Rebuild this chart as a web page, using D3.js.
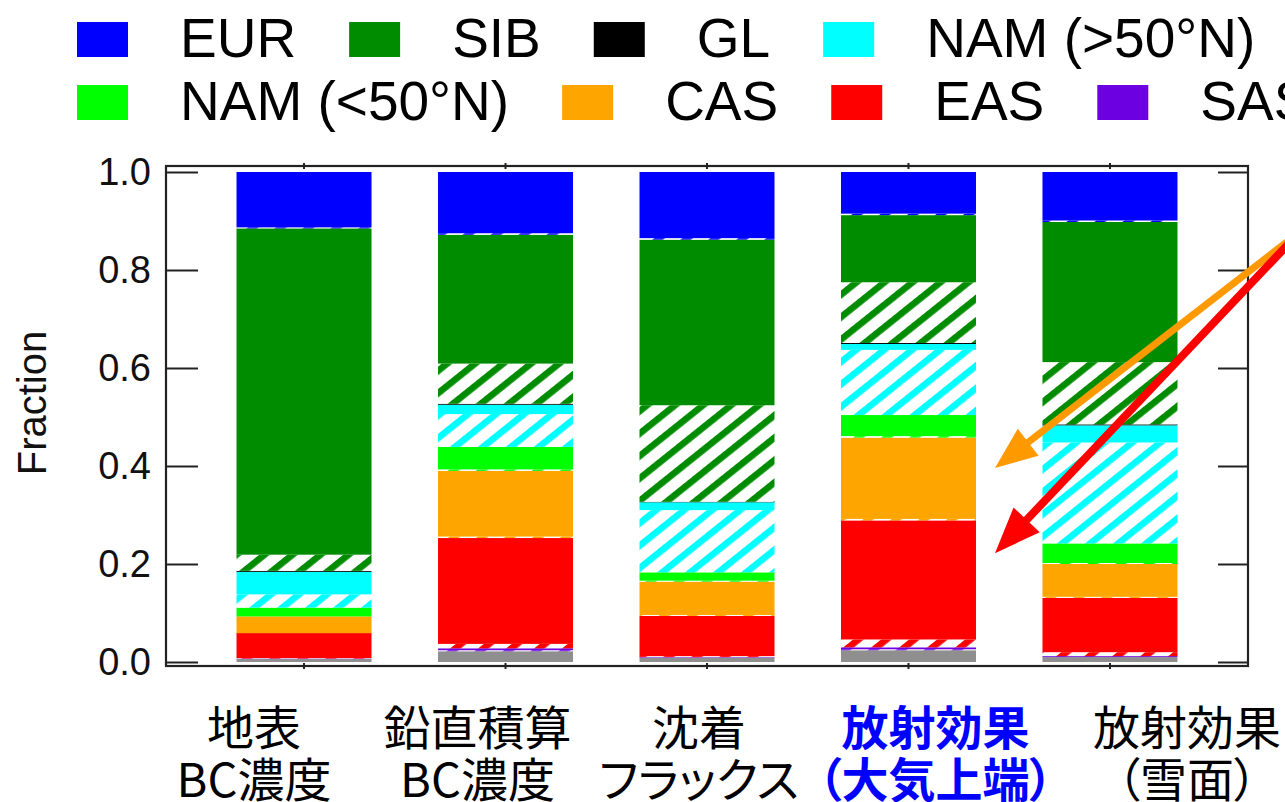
<!DOCTYPE html>
<html>
<head>
<meta charset="utf-8">
<script src="https://cdn.jsdelivr.net/npm/d3@7/dist/d3.min.js"></script>
<style>
  html, body { margin: 0; padding: 0; background: #fff; }
  svg { display: block; }
  .latin { font-family: "Liberation Sans", Arial, sans-serif; }
  .cjk { font-family: "Noto Sans CJK JP", "Noto Sans CJK SC", sans-serif; font-feature-settings: "palt" 1; }
</style>
</head>
<body>
<svg id="chart" width="1285" height="802"></svg>
<script>
// Categories (two-line labels)
const labelLine1 = ["地表", "鉛直積算", "沈着", "放射効果", "放射効果"];
const labelLine2 = ["BC濃度", "BC濃度", "フラックス", "（大気上端）", "（雪面）"];
const highlightIndex = 3;

// Source regions, stacked from the bottom up; legend lists them top-down
const regionKeys   = ["OTH", "SAS", "EAS", "CAS", "NAMS", "NAMN", "GL", "SIB", "EUR"];
const regionNames  = ["Others", "SAS", "EAS", "CAS", "NAM (<50°N)", "NAM (>50°N)", "GL", "SIB", "EUR"];
const regionColors = ["#8f8f8f", "#6c00e0", "#ff0000", "#ffa500", "#00ff00", "#00ffff", "#000000", "#008c00", "#0000ff"];
const legendOrder  = ["EUR", "SIB", "GL", "NAMN", "NAMS", "CAS", "EAS", "SAS"];

// Fractions per category: plain (solid) part and hatched part of each region
const othSolid  = [0.006, 0.022, 0.009, 0.024, 0.010];
const othHatch  = [0.000, 0.000, 0.000, 0.000, 0.000];
const sasSolid  = [0.001, 0.004, 0.001, 0.004, 0.002];
const sasHatch  = [0.000, 0.002, 0.000, 0.002, 0.000];
const easSolid  = [0.051, 0.216, 0.082, 0.243, 0.111];
const easHatch  = [0.001, 0.009, 0.002, 0.016, 0.008];
const casSolid  = [0.034, 0.134, 0.068, 0.166, 0.067];
const casHatch  = [0.000, 0.003, 0.002, 0.003, 0.002];
const namsSolid = [0.018, 0.046, 0.017, 0.043, 0.040];
const namsHatch = [0.000, 0.003, 0.002, 0.003, 0.002];
const namnSolid = [0.046, 0.019, 0.016, 0.012, 0.035];
const namnHatch = [0.027, 0.067, 0.127, 0.133, 0.206];
const glSolid   = [0.002, 0.002, 0.001, 0.002, 0.002];
const glHatch   = [0.000, 0.000, 0.000, 0.000, 0.000];
const sibSolid  = [0.666, 0.263, 0.338, 0.137, 0.286];
const sibHatch  = [0.033, 0.082, 0.197, 0.124, 0.127];
const eurSolid  = [0.113, 0.125, 0.135, 0.085, 0.099];
const eurHatch  = [0.002, 0.003, 0.003, 0.003, 0.003];

const yTicks = [0, 0.2, 0.4, 0.6, 0.8, 1.0];

const solidBy = { OTH: othSolid, SAS: sasSolid, EAS: easSolid, CAS: casSolid, NAMS: namsSolid, NAMN: namnSolid, GL: glSolid, SIB: sibSolid, EUR: eurSolid };
const hatchBy = { OTH: othHatch, SAS: sasHatch, EAS: easHatch, CAS: casHatch, NAMS: namsHatch, NAMN: namnHatch, GL: glHatch, SIB: sibHatch, EUR: eurHatch };
const colorBy = Object.fromEntries(regionKeys.map((k, i) => [k, regionColors[i]]));
const nameBy  = Object.fromEntries(regionKeys.map((k, i) => [k, regionNames[i]]));

const categories = labelLine1.map((l, i) => l + labelLine2[i]);
const table = categories.map((c, i) => {
  const row = { category: c };
  regionKeys.forEach(k => { row[k + "_h"] = hatchBy[k][i]; row[k] = solidBy[k][i]; });
  return row;
});
const stackKeys = regionKeys.flatMap(k => [k + "_h", k]);
const series = d3.stack().keys(stackKeys)(table);

// Layout
const plot = { left: 166, right: 1248, top: 166, bottom: 666 };
const svg = d3.select("#chart");

const x = d3.scaleBand().domain(categories).range([plot.left, plot.right])
  .paddingInner(0.33).paddingOuter(0.35);
const y = d3.scaleLinear().domain([0, 1]).range([662, 172]);

// Hatch patterns: coloured diagonal stripes on white
const defs = svg.append("defs");
regionKeys.forEach(k => {
  const p = defs.append("pattern")
    .attr("id", "hatch-" + k)
    .attr("patternUnits", "userSpaceOnUse")
    .attr("width", 17.5).attr("height", 17.5)
    .attr("patternTransform", "rotate(51.3)");
  p.append("rect").attr("width", 17.5).attr("height", 17.5).attr("fill", "#fff");
  p.append("rect").attr("width", 6.6).attr("height", 17.5).attr("fill", colorBy[k]);
});

// Stacked bars
const layers = svg.append("g").selectAll("g").data(series).join("g")
  .attr("fill", d => d.key.endsWith("_h") ? `url(#hatch-${d.key.slice(0, -2)})` : colorBy[d.key]);
layers.selectAll("rect").data(d => d).join("rect")
  .attr("x", d => x(d.data.category))
  .attr("width", x.bandwidth())
  .attr("y", d => y(d[1]))
  .attr("height", d => Math.max(0, y(d[0]) - y(d[1])));

// Frame with inward ticks
const axisColor = "#222";
svg.append("rect")
  .attr("x", plot.left).attr("y", plot.top)
  .attr("width", plot.right - plot.left).attr("height", plot.bottom - plot.top)
  .attr("fill", "none").attr("stroke", axisColor).attr("stroke-width", 2.2);

const leftAxis = d3.axisLeft(y).tickValues(yTicks).tickSize(-32).tickPadding(15).tickFormat(d3.format(".1f"));
const gl = svg.append("g").attr("transform", `translate(${plot.left},0)`).call(leftAxis);
gl.select(".domain").remove();
gl.selectAll(".tick line").attr("stroke", axisColor).attr("stroke-width", 2);
gl.selectAll(".tick text").attr("class", "latin").attr("font-size", 38).attr("fill", "#111");

const rightAxis = d3.axisRight(y).tickValues(yTicks).tickSize(-30).tickFormat("");
const gr = svg.append("g").attr("transform", `translate(${plot.right},0)`).call(rightAxis);
gr.select(".domain").remove();
gr.selectAll(".tick line").attr("stroke", axisColor).attr("stroke-width", 2);

[plot.top, plot.bottom].forEach(yy => {
  svg.append("g").selectAll("line").data(categories).join("line")
    .attr("x1", d => x(d) + x.bandwidth() / 2).attr("x2", d => x(d) + x.bandwidth() / 2)
    .attr("y1", yy - 3).attr("y2", yy + 3)
    .attr("stroke", axisColor).attr("stroke-width", 2);
});

// Y axis title
svg.append("text").attr("class", "latin")
  .attr("transform", "translate(46,403) rotate(-90)")
  .attr("text-anchor", "middle").attr("font-size", 40).attr("fill", "#111")
  .text("Fraction");

// Category labels
const labelShift = [-50, -28, -8, 27, 77];
const catLabels = svg.append("g").selectAll("text").data(categories).join("text")
  .attr("class", "cjk")
  .attr("text-anchor", "middle")
  .attr("font-size", 47)
  .attr("font-weight", (d, i) => i === highlightIndex ? 700 : 400)
  .attr("fill", (d, i) => i === highlightIndex ? "#0000ff" : "#000");
catLabels.append("tspan")
  .attr("x", (d, i) => x(d) + x.bandwidth() / 2 + labelShift[i]).attr("y", 745)
  .text((d, i) => labelLine1[i]);
catLabels.append("tspan")
  .attr("x", (d, i) => x(d) + x.bandwidth() / 2 + labelShift[i]).attr("y", 797)
  .text((d, i) => labelLine2[i]);

// Legend: two rows, flowing left to right
const legendRows = [legendOrder.slice(0, 4), legendOrder.slice(4)];
const legendBase = [57, 120];
legendRows.forEach((row, r) => {
  let cx = 77;
  row.forEach(k => {
    svg.append("rect").attr("x", cx).attr("y", legendBase[r] - 35)
      .attr("width", 51).attr("height", 35).attr("fill", colorBy[k]);
    const t = svg.append("text").attr("class", "latin")
      .attr("x", cx + 103).attr("y", legendBase[r])
      .attr("font-size", 55).attr("fill", "#000").text(nameBy[k]);
    cx += 103 + t.node().getComputedTextLength() + 53;
  });
});

// Arrows pointing at CAS and EAS of the highlighted category
function arrow(x0, y0, x1, y1, color, width, headLen, headHalf) {
  const dx = x1 - x0, dy = y1 - y0, L = Math.hypot(dx, dy);
  const ux = dx / L, uy = dy / L;
  const bx = x1 - ux * headLen, by = y1 - uy * headLen;
  svg.append("line").attr("x1", x0).attr("y1", y0)
    .attr("x2", bx + ux * 4).attr("y2", by + uy * 4)
    .attr("stroke", color).attr("stroke-width", width);
  svg.append("polygon")
    .attr("points", [[x1, y1], [bx - uy * headHalf, by + ux * headHalf], [bx + uy * headHalf, by - ux * headHalf]].map(p => p.join(",")).join(" "))
    .attr("fill", color);
}
const hc = categories[highlightIndex];
const tipX = x(hc) + x.bandwidth() + 19;
arrow(1300, y(0.878), tipX, y(0.396), "#ff9900", 7, 42, 17);
arrow(1300, y(0.878), tipX, y(0.222), "#ff0000", 8, 46, 18);
</script>
</body>
</html>
